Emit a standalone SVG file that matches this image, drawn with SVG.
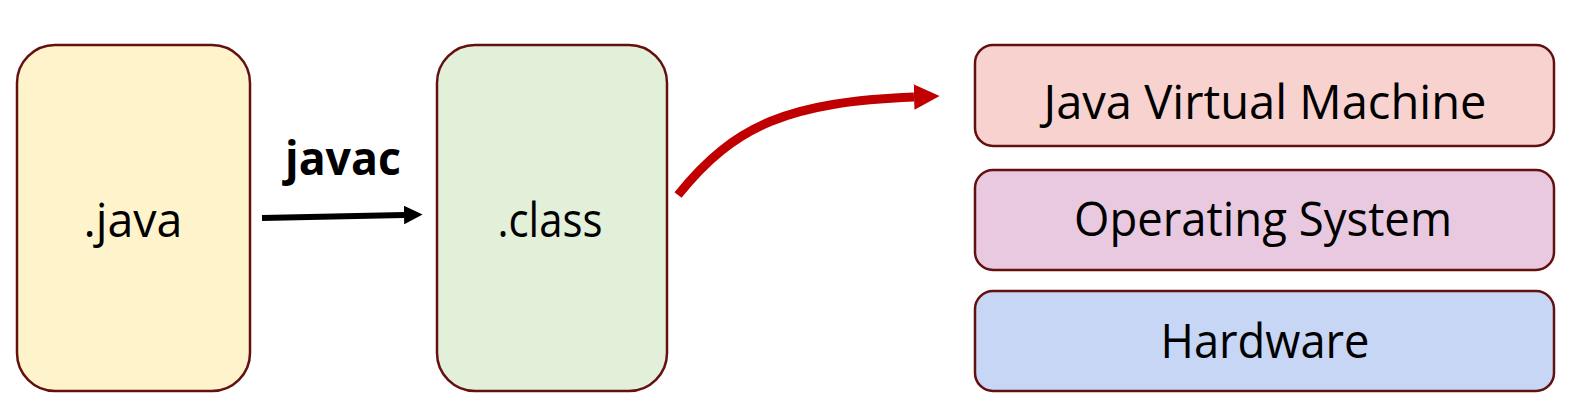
<svg xmlns="http://www.w3.org/2000/svg" width="1584" height="412" viewBox="0 0 1584 412">
<style>
.box{stroke:#641010;stroke-width:2.5}
.t{font-family:"Open Sans","Noto Sans",sans-serif;font-size:47px;fill:#000;text-anchor:middle}
.b{font-weight:bold}
</style>
<defs>
<marker id="ak" viewBox="0 0 10 10" refX="0" refY="5" markerWidth="3.1" markerHeight="3.1" orient="auto" markerUnits="strokeWidth"><path d="M0,0 L10,5 L0,10 z" fill="#000"/></marker>
<marker id="ar" viewBox="0 0 10 10" refX="0" refY="5" markerWidth="2.85" markerHeight="2.9" orient="auto" markerUnits="strokeWidth"><path d="M0,0 L10,5 L0,10 z" fill="#C00000"/></marker>
</defs>
<rect width="1584" height="412" fill="#fff"/>
<g id="java">
<rect class="box" x="17" y="45" width="233" height="346" rx="38" fill="#FFF3CC"/>
<text class="t" x="133" y="237" textLength="99" lengthAdjust="spacingAndGlyphs">.java</text>
</g>
<g id="class">
<rect class="box" x="437" y="45" width="230" height="346" rx="38" fill="#E2EFD9"/>
<text class="t" x="550" y="237" textLength="105" lengthAdjust="spacingAndGlyphs">.class</text>
</g>
<g id="jvm">
<rect class="box" x="975" y="45" width="579" height="101" rx="18" fill="#F8D2CF"/>
<text class="t" x="1265" y="119" textLength="443" lengthAdjust="spacingAndGlyphs">Java Virtual Machine</text>
</g>
<g id="os">
<rect class="box" x="975" y="170" width="579" height="100" rx="18" fill="#E9C9E0"/>
<text class="t" x="1263" y="236" textLength="378" lengthAdjust="spacingAndGlyphs">Operating System</text>
</g>
<g id="hw">
<rect class="box" x="975" y="291" width="579" height="100" rx="18" fill="#C6D6F4"/>
<text class="t" x="1265" y="358" textLength="209" lengthAdjust="spacingAndGlyphs">Hardware</text>
</g>
<g id="connectors">
<path d="M262,218 L404,215" stroke="#000" stroke-width="6" fill="none" marker-end="url(#ak)"/>
<text class="t b" x="343" y="175" textLength="116" lengthAdjust="spacingAndGlyphs">javac</text>
<path d="M678,195 C735,124 790,102 914,97" stroke="#C00000" stroke-width="9" fill="none" marker-end="url(#ar)"/>
</g>
</svg>
